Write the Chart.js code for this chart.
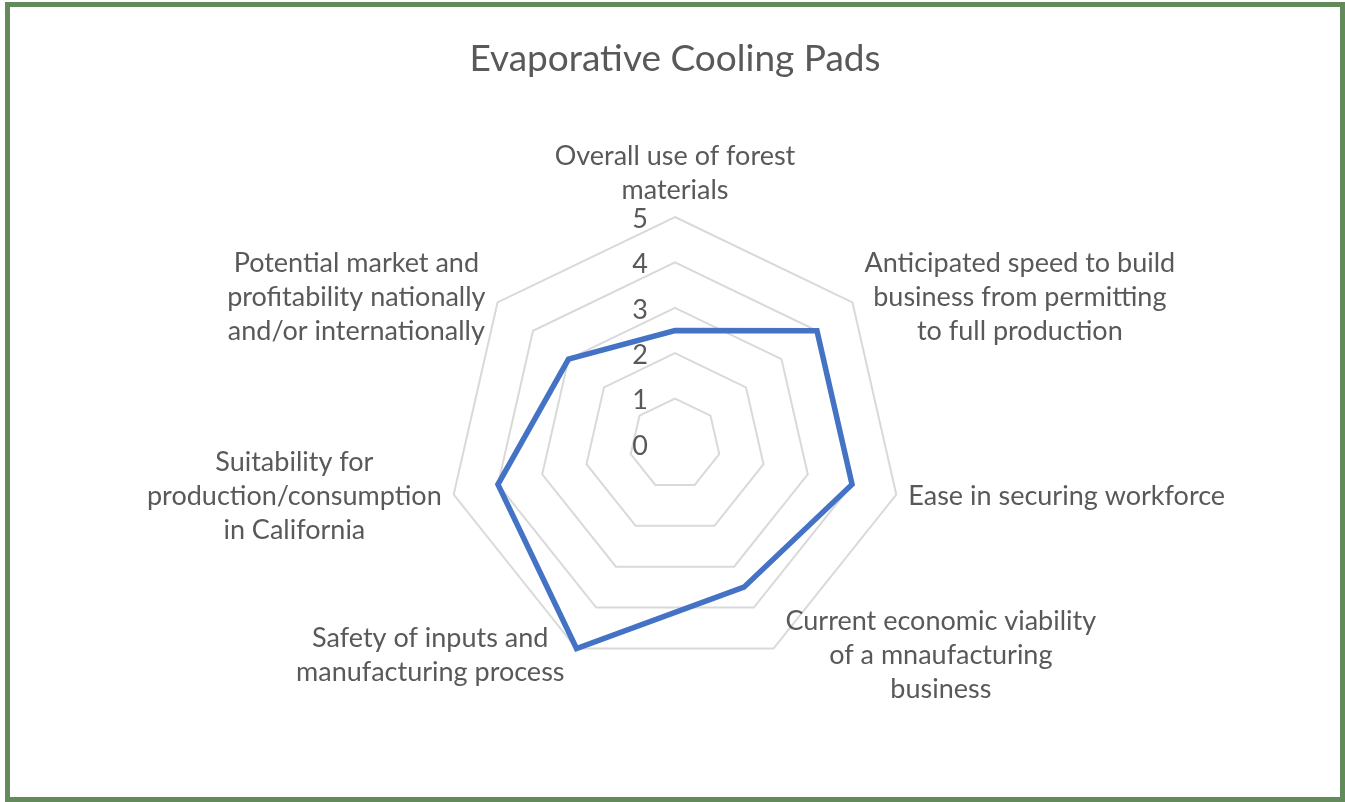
<!DOCTYPE html>
<html>
<head>
<meta charset="utf-8">
<script src="https://cdn.jsdelivr.net/npm/chart.js@4.4.1/dist/chart.umd.min.js"></script>
<style>
  html, body { margin: 0; padding: 0; background: #ffffff; }
  #wrap { position: relative; width: 1345px; height: 802px; overflow: hidden; }
  #c { position: absolute; left: 0; top: 0; }
  #frame { position: absolute; left: 5px; top: 2px; width: 1340px; height: 800px;
           border: 5px solid #628a5b; box-sizing: border-box; pointer-events: none; }
</style>
</head>
<body>
<div id="wrap">
  <canvas id="c" width="1345" height="802"></canvas>
  <div id="frame"></div>
</div>
<script>
const titleText = "Evaporative Cooling Pads";
const categories = [
  ["Overall use of forest", "materials"],
  ["Anticipated speed to build", "business from permitting", "to full production"],
  ["Ease in securing workforce"],
  ["Current economic viability", "of a mnaufacturing", "business"],
  ["Safety of inputs and", "manufacturing process"],
  ["Suitability for", "production/consumption", "in California"],
  ["Potential market and", "profitability nationally", "and/or internationally"]
];
const scores = [2.5, 4, 4, 3.5, 5, 4, 3];
const tickMin = 0;
const tickMax = 5;
const tickStep = 1;

const TEXT_COLOR = "#595959";
const LABEL_FONT = "27px Lato";
const LINE_H = 34;

const customLabels = {
  id: "customLabels",
  afterDraw(chart) {
    const scale = chart.scales.r;
    const ctx = chart.ctx;
    ctx.save();
    ctx.fillStyle = TEXT_COLOR;
    ctx.font = LABEL_FONT;
    ctx.textBaseline = "middle";
    // tick labels, left of the vertical axis
    ctx.textAlign = "center";
    scale.ticks.forEach(t => {
      const r = scale.getDistanceFromCenterForValue(t.value);
      ctx.fillText(String(t.value), scale.xCenter - 35, scale.yCenter - r + 2);
    });
    // category labels
    const n = categories.length;
    categories.forEach((lines, i) => {
      const p = scale.getPointPosition(i, scale.drawingArea);
      const ang = i * 2 * Math.PI / n;
      const widths = lines.map(l => ctx.measureText(l).width);
      const bw = Math.max(...widths);
      let cx, cy;
      if (i === 0) {
        cx = p.x;
        cy = p.y - 10 - (lines.length * LINE_H) / 2;
      } else {
        const side = Math.sin(ang) > 0 ? 1 : -1;
        cx = p.x + side * (12 + bw / 2);
        cy = p.y - 8 * Math.cos(ang);
      }
      const top = cy - (lines.length * LINE_H) / 2;
      ctx.textAlign = "center";
      lines.forEach((l, k) => {
        ctx.fillText(l, cx, top + LINE_H * (k + 0.5));
      });
    });
    ctx.restore();
  }
};

new Chart(document.getElementById("c"), {
  type: "radar",
  data: {
    labels: categories,
    datasets: [{
      label: titleText,
      data: scores,
      borderColor: "#4472c4",
      backgroundColor: "rgba(0,0,0,0)",
      borderWidth: 5.5,
      fill: false,
      pointRadius: 0,
      pointHoverRadius: 0,
      tension: 0,
      borderJoinStyle: "miter"
    }]
  },
  options: {
    responsive: false,
    animation: false,
    devicePixelRatio: 1,
    layout: { padding: { top: 37, bottom: 130, left: 300, right: 295 } },
    plugins: {
      legend: { display: false },
      tooltip: { enabled: false },
      title: {
        display: true,
        text: titleText,
        color: TEXT_COLOR,
        font: { family: "Lato", size: 37, weight: "normal", lineHeight: 1.2 },
        padding: { top: 0, bottom: 135.6 }
      }
    },
    scales: {
      r: {
        min: tickMin,
        max: tickMax,
        ticks: { stepSize: tickStep, display: false },
        grid: { color: "#d9d9d9", lineWidth: 2, circular: false },
        angleLines: { display: false },
        pointLabels: { display: false }
      }
    }
  },
  plugins: [customLabels]
});
</script>
</body>
</html>
